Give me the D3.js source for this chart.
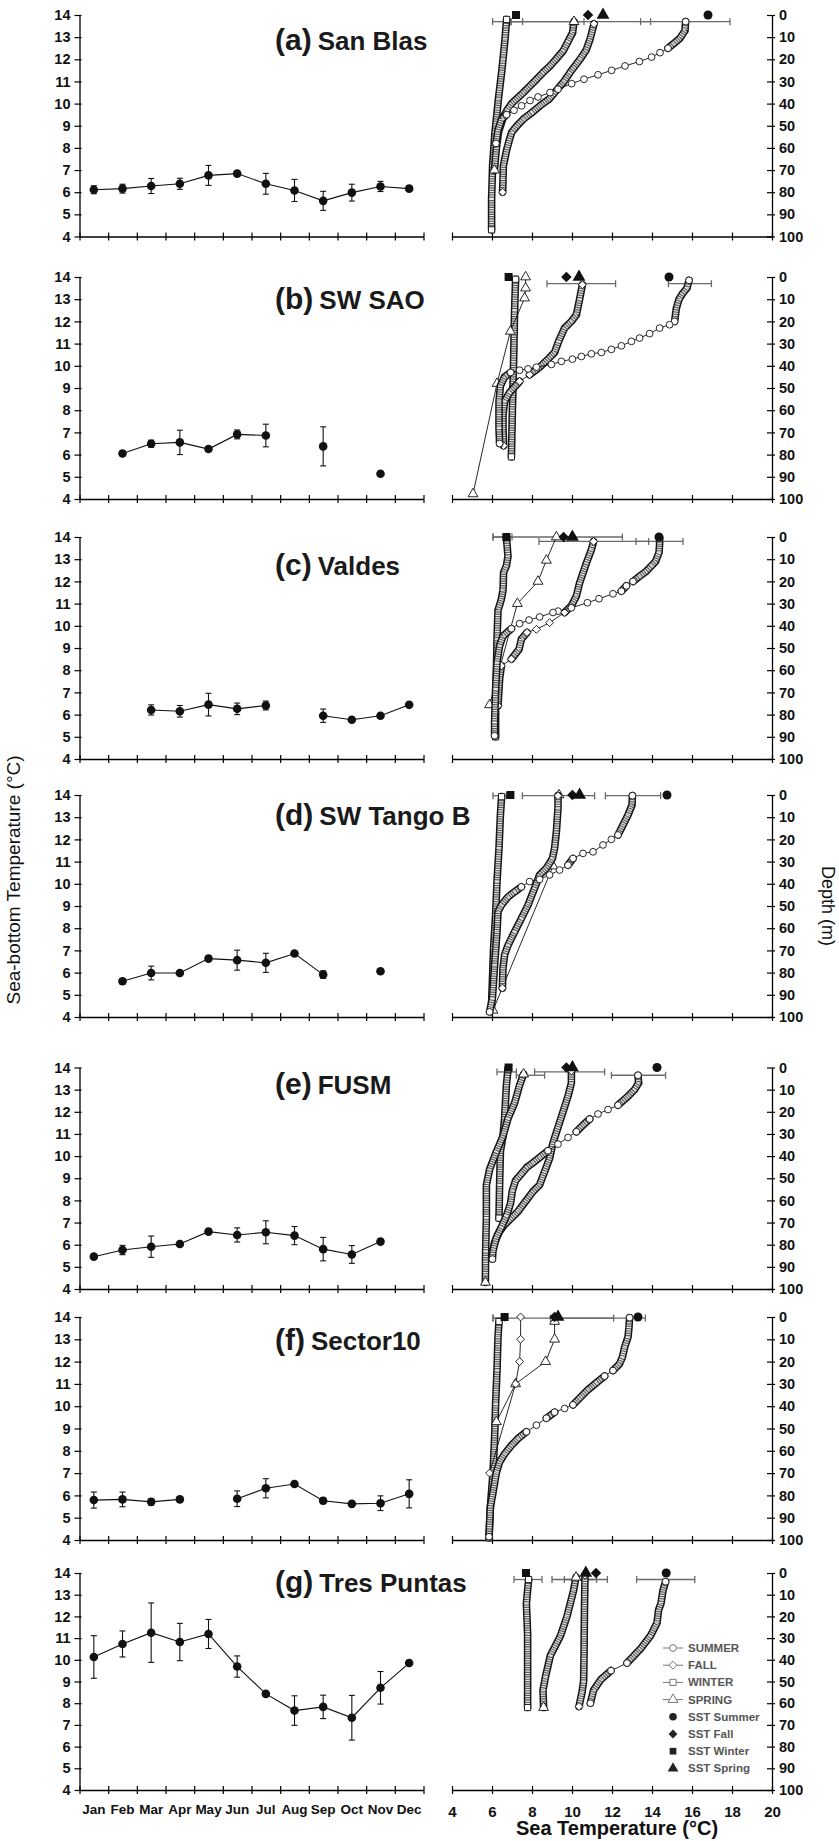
<!DOCTYPE html>
<html><head><meta charset="utf-8">
<script src="https://cdn.jsdelivr.net/npm/d3@7"></script>
<style>body{margin:0;background:#fff} svg{display:block;font-family:"Liberation Sans",Arial,sans-serif}</style>
</head><body><svg id="chart" width="839" height="1841"></svg>
<script>
// ---------- categories / ticks ----------
const months = ["Jan","Feb","Mar","Apr","May","Jun","Jul","Aug","Sep","Oct","Nov","Dec"];
const bottomTicks = [4,5,6,7,8,9,10,11,12,13,14];
const tempTicks = [4,6,8,10,12,14,16,18,20];
const depthTicks = [0,10,20,30,40,50,60,70,80,90,100];
const panelLetters = ["(a)","(b)","(c)","(d)","(e)","(f)","(g)"];
const panelNames = ["San Blas","SW SAO","Valdes","SW Tango B","FUSM","Sector10","Tres Puntas"];
const seasons = ["SUMMER","FALL","WINTER","SPRING"];
const sstLabels = ["SST Summer","SST Fall","SST Winter","SST Spring"];

// ---------- monthly sea-bottom temperature (mean, sd) ----------
const bottomMean_a = [6.11,6.16,6.28,6.38,6.76,6.84,6.38,6.08,5.61,5.98,6.26,6.16];
const bottomSd_a   = [0.18,0.2,0.34,0.25,0.45,0.12,0.47,0.5,0.43,0.38,0.23,0.11];
const bottomMean_b = [null,6.05,6.49,6.55,6.25,6.91,6.86,null,6.37,null,5.14,null];
const bottomSd_b   = [null,0,0.16,0.55,0,0.2,0.51,null,0.88,null,0,null];
const bottomMean_c = [null,null,6.21,6.15,6.45,6.26,6.41,null,5.95,5.77,5.95,6.44];
const bottomSd_c   = [null,null,0.23,0.26,0.51,0.26,0.2,null,0.3,0,0,0];
const bottomMean_d = [null,5.61,5.98,5.98,6.63,6.56,6.44,6.86,5.91,null,6.06,null];
const bottomSd_d   = [null,0.12,0.31,0,0.08,0.45,0.43,0,0.17,null,0,null];
const bottomMean_e = [5.46,5.76,5.91,6.03,6.59,6.44,6.56,6.41,5.8,5.56,6.14,null];
const bottomSd_e   = [0,0.21,0.48,0,0,0.32,0.52,0.41,0.53,0.4,0.08,null];
const bottomMean_f = [5.79,5.82,5.71,5.82,null,5.85,6.32,6.51,5.76,5.62,5.65,6.07];
const bottomSd_f   = [0.36,0.33,0.14,0,null,0.35,0.43,0,0.13,0,0.33,0.63];
const bottomMean_g = [10.13,10.73,11.25,10.82,11.19,9.69,8.43,7.66,7.83,7.33,8.71,9.85];
const bottomSd_g   = [0.98,0.6,1.37,0.86,0.67,0.49,0,0.68,0.54,1.03,0.75,0];

// ---------- SST (summer, fall, winter, spring) and SST ranges [depth, lo, hi] ----------
const sst_a = [16.8,10.8,7.2,11.55];
const sstRange_a = [[3,6.03,7.53],[3,6.95,10.6],[3,6.95,13.93],[3,13.43,17.9]];
const sst_b = [14.85,9.72,6.83,10.35];
const sstRange_b = [[3,8.75,12.18],[3,14.82,16.97]];
const sst_c = [14.35,9.58,6.72,10.02];
const sstRange_c = [[0,6.05,7.0],[0,6.05,12.52],[2,8.35,13.83],[2,13.2,15.55]];
const sst_d = [14.75,10.02,6.92,10.38];
const sstRange_d = [[0.3,6.05,6.72],[0.3,7.52,11.13],[0.3,11.67,14.43]];
const sst_e = [14.25,9.72,6.83,10.02];
const sstRange_e = [[2,6.25,7.22],[3.5,7.22,8.63],[2,8.13,11.63],[3.5,11.97,14.68]];
const sst_f = [13.3,9.13,6.63,9.3];
const sstRange_f = [[0.5,6.05,6.63],[0.5,6.05,12.08],[0.5,8.92,13.67]];
const sst_g = [14.71,11.2,7.7,10.69];
const sstRange_g = [[3,7.1,8.5],[3,9.0,11.23],[3,9.62,11.77],[3,13.23,16.14]];

// ---------- seasonal profiles [depth (m), temperature (°C)] ----------
const summer_a = [[3,15.68],[7,15.65],[10.5,15.4],[13,15.07],[15,14.8],[17,14.4],[19,13.98],[21,13.37],[23,12.65],[25,11.98],[27,11.3],[29,10.6],[31,9.98],[33.5,9.3],[35,8.9],[37,8.3],[38.6,7.9],[41,7.48],[43,7.1],[45,6.73],[47,6.48],[52,6.3],[58,6.2]];
const fall_a   = [[4,11.1],[11,10.9],[16,10.7],[20,10.4],[26,9.9],[30,9.6],[34,9.23],[38,8.85],[41,8.4],[44,8.0],[47,7.57],[50,7.25],[53,6.98],[57,6.85],[61,6.73],[68,6.57],[74,6.55],[80,6.53]];
const winter_a = [[2,6.73],[11,6.65],[20,6.55],[26,6.48],[38,6.32],[53,6.15],[68,6.03],[83,5.98],[97,5.98]];
const spring_a = [[3,10.1],[8,10.03],[12,9.8],[16,9.57],[20,9.2],[23,8.9],[26,8.55],[29,8.23],[32,7.9],[35,7.57],[40,6.98],[43,6.75],[46,6.57],[53,6.32],[60,6.22],[70,6.12]];

const summer_b = [[1.5,15.85],[5,15.75],[7.5,15.52],[10,15.35],[14,15.22],[20,15.13],[21.5,14.88],[23,14.38],[25.5,13.88],[27.5,13.38],[29,12.97],[31,12.47],[32.6,11.97],[34,11.47],[34.6,10.97],[35.8,10.47],[37,10.02],[38,9.47],[39.4,8.97],[40.6,8.22],[41.4,7.8],[42,7.38],[43,6.93],[45,6.63],[49,6.42],[56,6.35],[68,6.35],[75,6.38]];
const fall_b   = [[3.5,10.52],[10,10.38],[17,10.22],[20,9.97],[23,9.63],[29,9.33],[34,9.13],[37,8.8],[40.6,8.38],[44,7.88],[47,7.38],[52,6.88],[56,6.63],[62,6.55],[68,6.55],[76,6.58]];
const winter_b = [[1,7.18],[15,7.13],[38,7.08],[60,7.02],[81,6.97]];
const spring_b = [[0,7.68],[5,7.68],[9.5,7.63],[24.5,6.92],[48,6.25],[97.7,5.05]];

const summer_c = [[0.5,14.38],[3.4,14.38],[7,14.35],[11,14.18],[13,13.97],[15.4,13.72],[17.7,13.38],[20,13.05],[22,12.72],[24.4,12.47],[25.6,12.05],[27.8,11.35],[29.6,10.77],[31.9,9.97],[33.4,9.3],[34,9.05],[36,8.38],[37.4,7.85],[39,7.38],[41.3,6.97],[44.6,6.55],[49,6.38],[56.6,6.25],[68.6,6.18],[83.5,6.13],[89.5,6.13]];
const fall_c   = [[2,11.08],[5.7,10.97],[11.7,10.72],[20.7,10.38],[26.6,10.22],[31,9.97],[34,9.63],[38.6,8.88],[41.6,8.22],[43,7.75],[46,7.47],[50.6,7.35],[55,6.97],[58,6.47],[64,6.38],[76,6.3]];
const winter_c = [[0,6.72],[8.7,6.8],[13,6.72],[16,6.58],[24,6.55],[28,6.47],[33,6.3],[46,6.25],[61,6.22],[76,6.18],[90,6.18]];
const spring_c = [[0,9.22],[10.5,8.72],[20,8.3],[30,7.27],[75.6,5.88]];

const summer_d = [[0.3,13.02],[4.5,13.0],[9,12.8],[13.5,12.55],[18,12.3],[20,11.97],[22.5,11.55],[25.6,11.05],[26.3,10.55],[28.6,10.05],[31.6,9.8],[33.8,9.38],[36,8.88],[38,8.38],[39,7.88],[41.4,7.47],[43.6,7.13],[45.9,6.8],[49.6,6.47],[52.6,6.3],[61.6,6.25],[76.7,6.13],[91.7,6.02],[97.7,5.88]];
const fall_d   = [[0.3,9.3],[6,9.3],[16.5,9.22],[24,9.13],[28.6,9.02],[33,8.72],[36,8.38],[42,8.13],[49.6,7.8],[55.6,7.47],[61.6,7.13],[67.7,6.8],[72,6.63],[78,6.55],[87,6.52]];
const winter_d = [[0.75,6.48],[9,6.42],[24,6.35],[39,6.25],[54,6.18],[69,6.08],[84,6.02],[96,5.97]];
const spring_d = [[0,9.35],[32,9.05],[97,6.05]];

const summer_e = [[3.5,13.3],[7,13.33],[10,13.13],[13,12.8],[17,12.3],[19,11.8],[21,11.3],[23.3,10.88],[26,10.55],[29,10.22],[31.6,9.8],[34.6,9.3],[37.6,8.8],[40.6,8.38],[43,8.05],[45,7.75],[48,7.47],[51,7.18],[55.6,7.02],[61.6,6.92],[67,6.72],[72,6.47],[76.7,6.22],[82.7,6.05],[86.5,6.02]];
const fall_e   = [[1.5,9.97],[7,9.97],[13,9.8],[20,9.55],[27,9.3],[34,9.05],[41,8.88],[47,8.63],[53,8.38],[56,8.05],[61,7.63],[65,7.3],[68,6.97],[71,6.63],[74,6.38],[79,6.13],[82,6.05]];
const winter_e = [[0.75,6.8],[8,6.72],[23,6.63],[31,6.55],[38,6.42],[53,6.38],[68,6.35]];
const spring_e = [[3,7.58],[8,7.38],[16,7.13],[23,6.8],[31,6.55],[38,6.22],[46,5.88],[53,5.72],[68,5.72],[83,5.68],[97,5.67]];

const summer_f = [[0.3,12.88],[4.5,12.85],[9,12.8],[13.6,12.63],[18,12.52],[21,12.38],[24,12.05],[26.5,11.63],[29.5,11.22],[32.6,10.8],[36.4,10.38],[39.4,10.05],[41,9.63],[42.7,9.13],[45.4,8.72],[48.5,8.22],[51.5,7.72],[54.5,7.3],[57.6,6.97],[61.4,6.63],[65,6.38],[69.7,6.22],[78.8,6.05],[85,5.92],[98.5,5.85]];
const fall_f   = [[0,7.43],[10,7.43],[20,7.38],[30,7.18],[70,5.88]];
const winter_f = [[2,6.35],[9,6.3],[24,6.25],[39,6.18],[54.5,6.13],[70,6.05],[85,5.92],[99,5.85]];
const spring_f = [[2,9.13],[10,9.13],[20,8.68],[30,7.18],[47,6.22]];

const summer_g = [[4,14.68],[8,14.55],[14,14.45],[17,14.33],[23,14.25],[29,13.92],[35,13.42],[41.5,12.75],[45,11.95],[49,11.45],[54,11.08],[60,10.92]];
const fall_g   = [[1,10.65],[20,10.62],[40,10.6],[50,10.58],[55,10.5],[61.5,10.35]];
const winter_g = [[3,7.83],[14,7.72],[28,7.78],[45,7.78],[62,7.78]];
const spring_g = [[2,10.2],[8,10.08],[20,9.75],[29,9.42],[38,8.92],[48,8.67],[54,8.55],[62,8.58]];

// profiles sampled only at a few discrete depths (drawn as plain line + markers)
const discreteProfiles = ["b-SPRING","c-SPRING","d-SPRING","f-FALL","f-SPRING"];

// ---------- assemble ----------
const keys = ["a","b","c","d","e","f","g"];
const bottomMeans = [bottomMean_a,bottomMean_b,bottomMean_c,bottomMean_d,bottomMean_e,bottomMean_f,bottomMean_g];
const bottomSds = [bottomSd_a,bottomSd_b,bottomSd_c,bottomSd_d,bottomSd_e,bottomSd_f,bottomSd_g];
const ssts = [sst_a,sst_b,sst_c,sst_d,sst_e,sst_f,sst_g];
const sstRanges = [sstRange_a,sstRange_b,sstRange_c,sstRange_d,sstRange_e,sstRange_f,sstRange_g];
const profiles = [
  [summer_a,fall_a,winter_a,spring_a],[summer_b,fall_b,winter_b,spring_b],
  [summer_c,fall_c,winter_c,spring_c],[summer_d,fall_d,winter_d,spring_d],
  [summer_e,fall_e,winter_e,spring_e],[summer_f,fall_f,winter_f,spring_f],
  [summer_g,fall_g,winter_g,spring_g]];

// ---------- layout ----------
const W = 839, H = 1841;
const LX0 = 79.5, LX1 = 423.5, RX0 = 452, RX1 = 772;
const panelBox = [[15,236.5],[277,499],[537,759],[795,1017],[1067.5,1289],[1317,1540],[1573,1790]];
const titleDy = [35,32,38,30,26,33,19];
const FONT_B = "'Liberation Sans',Arial,sans-serif";
const FONT_N = "'Liberation Sans Narrow','Arial Narrow','Liberation Sans',sans-serif";
const diamondType = d3.symbolDiamond2 || d3.symbolDiamond;
const symTypes = [d3.symbolCircle, diamondType, d3.symbolSquare, d3.symbolTriangle];
const openSize = [36, 40, 38, 42];
const fillSize = [64, 70, 64, 72];

const svg = d3.select("#chart");
svg.append("rect").attr("width",W).attr("height",H).attr("fill","#fff");

const xMonth = d3.scaleBand().domain(months).range([LX0,LX1]).padding(0);
const xMonthEdge = d3.scaleLinear().domain([0,12]).range([LX0,LX1]);
const xTemp = d3.scaleLinear().domain([4,20]).range([RX0,RX1]);

function styleAxis(g, fontSize, family){
  g.select(".domain").attr("stroke","#000").attr("stroke-width",1.3);
  g.selectAll(".tick line").attr("stroke","#000").attr("stroke-width",1.2);
  g.selectAll(".tick text").attr("font-family",family||FONT_B).attr("font-weight","bold")
    .attr("font-size",fontSize).attr("fill","#111");
}

keys.forEach((k,i)=>{
  const [top,bot] = panelBox[i];
  const last = i === keys.length-1;
  const yB = d3.scaleLinear().domain([4,14]).range([bot,top]);
  const yD = d3.scaleLinear().domain([0,100]).range([top,bot]);
  const g = svg.append("g");

  // ---- left plot axes ----
  const ax = g.append("g").attr("transform",`translate(${LX0},0)`)
    .call(d3.axisLeft(yB).tickValues(bottomTicks).tickSize(5).tickSizeOuter(0).tickPadding(4));
  styleAxis(ax, 14.5);
  ax.selectAll(".tick line").attr("x1",2);
  const bx = g.append("g").attr("transform",`translate(0,${bot})`)
    .call(d3.axisBottom(xMonthEdge).tickValues(d3.range(13)).tickFormat("").tickSize(4).tickSizeOuter(0));
  styleAxis(bx, 12);
  bx.selectAll(".tick line").attr("y1",-4);
  if(last){
    const mx = g.append("g").attr("transform",`translate(0,${bot})`)
      .call(d3.axisBottom(xMonth).tickSize(0).tickPadding(14));
    mx.select(".domain").remove();
    styleAxis(mx, 13.5, FONT_N);
  }

  // ---- left plot data ----
  const pts = months.map((m,j)=>({m, v:bottomMeans[i][j], sd:bottomSds[i][j]}));
  const line = d3.line().defined(d=>d.v!=null).x(d=>xMonth(d.m)+xMonth.bandwidth()/2).y(d=>yB(d.v));
  g.append("path").attr("d",line(pts)).attr("fill","none").attr("stroke","#111").attr("stroke-width",1.1);
  const valid = pts.filter(d=>d.v!=null);
  const eb = g.append("g").attr("stroke","#111").attr("stroke-width",1.1);
  valid.filter(d=>d.sd>0.05).forEach(d=>{
    const cx = xMonth(d.m)+xMonth.bandwidth()/2;
    eb.append("line").attr("x1",cx).attr("x2",cx).attr("y1",yB(d.v-d.sd)).attr("y2",yB(d.v+d.sd));
    [d.v-d.sd,d.v+d.sd].forEach(v=>eb.append("line").attr("x1",cx-3).attr("x2",cx+3).attr("y1",yB(v)).attr("y2",yB(v)));
  });
  g.selectAll(null).data(valid).join("circle")
    .attr("cx",d=>xMonth(d.m)+xMonth.bandwidth()/2).attr("cy",d=>yB(d.v)).attr("r",4.3).attr("fill","#111");

  // ---- title ----
  const t = g.append("text").attr("x",275).attr("y",top+titleDy[i]).attr("font-family",FONT_B)
    .attr("font-weight","bold").attr("fill","#1a1a1a");
  t.append("tspan").attr("font-size",30).text(panelLetters[i]);
  t.append("tspan").attr("font-size",26).attr("dx",6).text(panelNames[i]);

  // ---- right plot axes ----
  const tx = g.append("g").attr("transform",`translate(0,${bot})`)
    .call(d3.axisBottom(xTemp).tickValues(tempTicks).tickSize(4).tickSizeOuter(0).tickPadding(12)
      .tickFormat(last? d3.format("d") : ""));
  styleAxis(tx, 15);
  tx.selectAll(".tick line").attr("y1",-4);
  const dx = g.append("g").attr("transform",`translate(${RX1},0)`)
    .call(d3.axisRight(yD).tickValues(depthTicks).tickSize(3).tickSizeOuter(0).tickPadding(4));
  styleAxis(dx, 14.5);
  dx.selectAll(".tick line").attr("x1",-5);

  // ---- SST ranges ----
  const rg = g.append("g").attr("stroke","#6a6a6a").attr("stroke-width",1.3);
  sstRanges[i].forEach(([d,lo,hi])=>{
    const y = yD(d);
    rg.append("line").attr("x1",xTemp(lo)).attr("x2",xTemp(hi)).attr("y1",y).attr("y2",y);
    [lo,hi].forEach(v=>rg.append("line").attr("x1",xTemp(v)).attr("x2",xTemp(v)).attr("y1",y-3.5).attr("y2",y+3.5));
  });

  // ---- profiles ----
  // drawing order: winter, spring, fall, summer
  [2,3,1,0].forEach(s=>{
    const data = profiles[i][s];
    const P = data.map(([d,tc])=>[xTemp(tc), yD(d)]);
    const pg = g.append("g");
    pg.append("path").attr("d",d3.line()(P)).attr("fill","none").attr("stroke","#111").attr("stroke-width",0.9);
    const sparse = discreteProfiles.includes(k+"-"+seasons[s]);
    let isBand = [];
    if(!sparse){
      for(let j=0;j<data.length-1;j++){
        const dxp = Math.abs(P[j+1][0]-P[j][0]);
        const perM = dxp / Math.max(data[j+1][0]-data[j][0], 0.01);
        isBand[j] = perM < 3.2;
      }
      const segs = isBand.map((b,j)=> b ? `M${P[j][0]},${P[j][1]}L${P[j+1][0]},${P[j+1][1]}` : "").join("");
      if(segs){
        pg.append("path").attr("d",segs).attr("fill","none").attr("stroke","#161616").attr("stroke-width",7.6).attr("stroke-linecap","round");
        pg.append("path").attr("d",segs).attr("fill","none").attr("stroke","#5c5c5c").attr("stroke-width",4.6).attr("stroke-linecap","butt");
        pg.append("path").attr("d",segs).attr("fill","none").attr("stroke","#e8e8e8").attr("stroke-width",4.6)
          .attr("stroke-dasharray","1.1,1.2").attr("stroke-linecap","butt");
      }
    }
    const markIdx = P.map((p,j)=>j).filter(j=> sparse || j===0 || j===P.length-1 || !(isBand[j-1] && isBand[j]));
    pg.selectAll(null).data(markIdx).join("path")
      .attr("transform",j=>`translate(${P[j][0]},${P[j][1]})`)
      .attr("d",d3.symbol().type(symTypes[s]).size(openSize[s]))
      .attr("fill","#fff").attr("stroke","#111").attr("stroke-width",0.9);
  });

  // ---- SST markers ----
  ssts[i].forEach((v,s)=>{
    g.append("path").attr("transform",`translate(${xTemp(v)},${yD(0)})`)
      .attr("d",d3.symbol().type(symTypes[s]).size(fillSize[s])).attr("fill","#111");
  });
});

// ---------- legend (panel g) ----------
const leg = svg.append("g").attr("transform","translate(663,1648)");
const legItems = seasons.concat(sstLabels);
legItems.forEach((lab,j)=>{
  const y = j*17.2;
  const s = j%4;
  if(j<4){
    leg.append("line").attr("x1",0).attr("x2",20).attr("y1",y).attr("y2",y).attr("stroke","#777").attr("stroke-width",1);
    leg.append("path").attr("transform",`translate(10,${y})`).attr("d",d3.symbol().type(symTypes[s]).size(openSize[s]))
      .attr("fill","#fff").attr("stroke","#777").attr("stroke-width",1);
  } else {
    leg.append("path").attr("transform",`translate(10,${y})`).attr("d",d3.symbol().type(symTypes[s]).size(fillSize[s]*0.7)).attr("fill","#222");
  }
  leg.append("text").attr("x",25).attr("y",y).attr("dy","0.35em").attr("font-family",FONT_B)
    .attr("font-weight","bold").attr("font-size",11.5).attr("fill","#555").text(lab);
});

// ---------- axis titles ----------
svg.append("text").attr("transform","translate(20,880) rotate(-90)").attr("text-anchor","middle")
  .attr("font-family",FONT_B).attr("font-size",19).attr("fill","#111").text("Sea-bottom Temperature (°C)");
svg.append("text").attr("transform","translate(822,906) rotate(90)").attr("text-anchor","middle")
  .attr("font-family",FONT_B).attr("font-size",18).attr("fill","#111").text("Depth (m)");
svg.append("text").attr("x",617).attr("y",1835).attr("text-anchor","middle")
  .attr("font-family",FONT_B).attr("font-weight","bold").attr("font-size",20).attr("fill","#111").text("Sea Temperature (°C)");
</script></body></html>
